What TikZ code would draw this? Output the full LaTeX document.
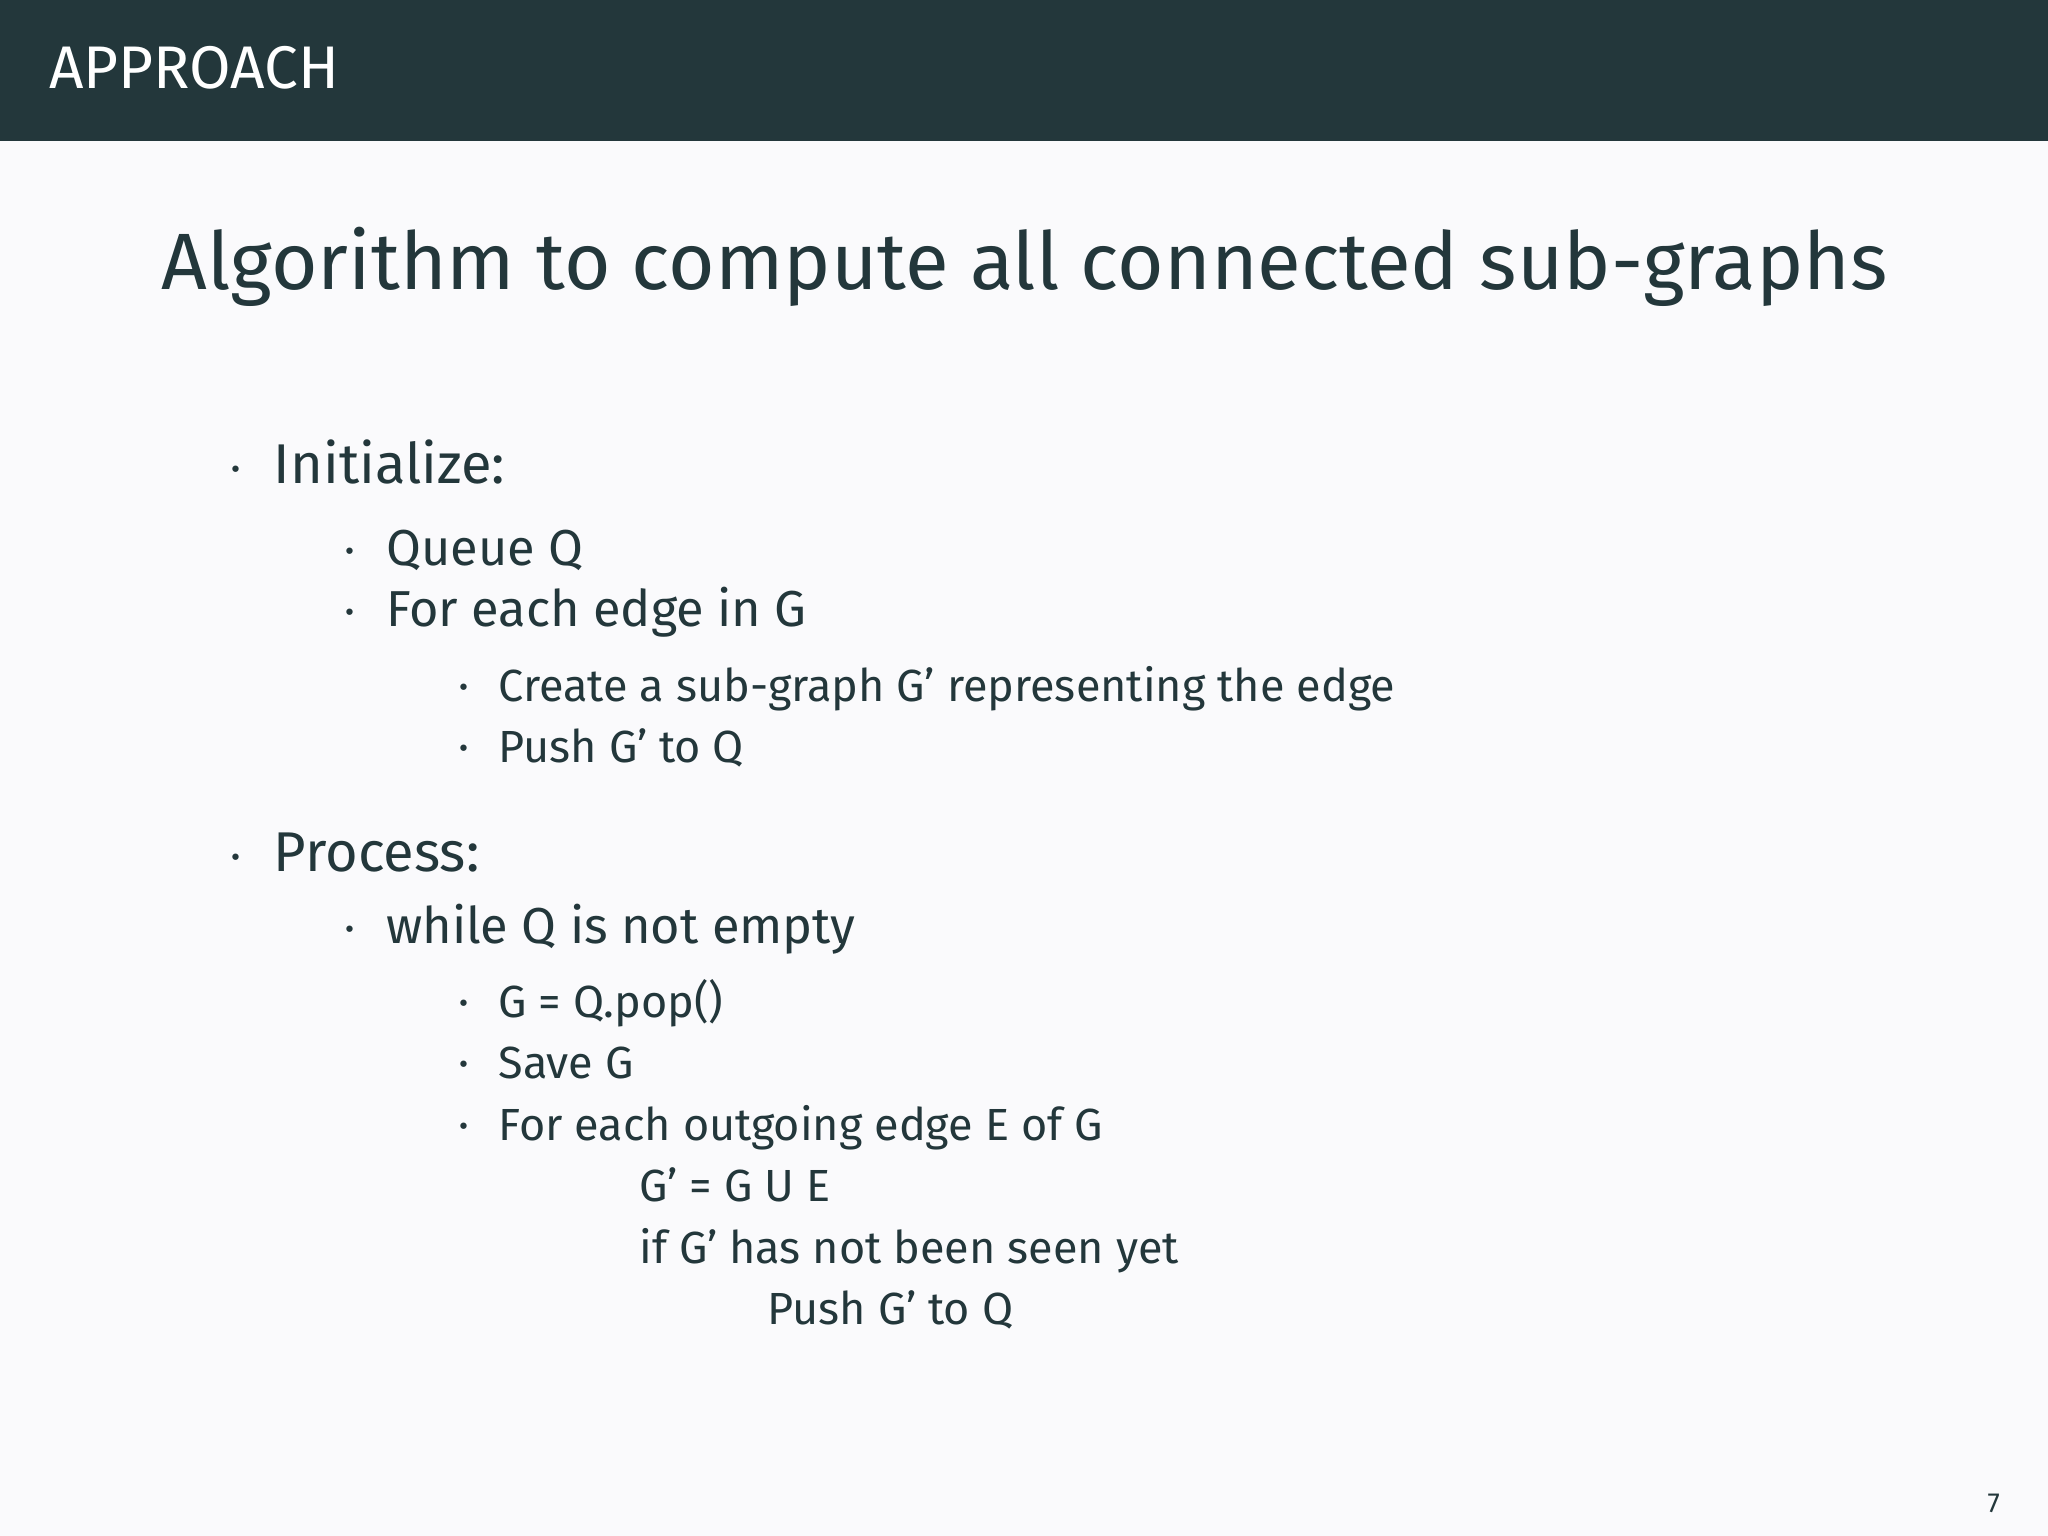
\documentclass[tikz,border=0pt]{standalone}
\usepackage{fontspec}
\setmainfont{Fira Sans}
\definecolor{dk}{HTML}{23373B}
\definecolor{bg}{HTML}{FAFAFC}
\begin{document}
\begin{tikzpicture}[x=0.01cm,y=-0.01cm,
  t/.style={anchor=base west,inner sep=0,text=dk},
  l1/.style={t,font=\fontsize{12.2}{15}\selectfont},
  l2/.style={t,font=\fontsize{11}{14}\selectfont},
  l3/.style={t,font=\fontsize{9.8}{13}\selectfont},
  bul/.style={t,font=\fontsize{10}{13}\selectfont}]
\useasboundingbox (0,0) rectangle (1568,1176);
\fill[bg] (0,0) rectangle (1568,1176);
\fill[dk] (0,0) rectangle (1568,108);
\node[t,text=white,font=\fontsize{13.1}{15}\selectfont] (hd) at (37,68) {APPROACH};
\node[t,font=\fontsize{17.4}{21}\selectfont] (title) at (123,222) {Algorithm to compute all connected sub-graphs};
\node[bul] (b1) at (176,370) {·};
\node[l1] (i1) at (209,370) {Initialize:};
\node[bul] (b2) at (263,433) {·};
\node[l2] (q) at (295,433) {Queue Q};
\node[bul] (b3) at (263,480) {·};
\node[l2] (fe) at (295,480) {For each edge in G};
\node[bul] (b4) at (350,537) {·};
\node[l3] (cr) at (381,537) {Create a sub-graph G’ representing the edge};
\node[bul] (b5) at (350,584) {·};
\node[l3] (pu) at (381,584) {Push G’ to Q};
\node[bul] (b6) at (176,667) {·};
\node[l1] (pr) at (209,667) {Process:};
\node[bul] (b7) at (263,722) {·};
\node[l2] (wh) at (295,722) {while Q is not empty};
\node[bul] (b8) at (350,779) {·};
\node[l3] (gp) at (381,779) {G = Q.pop()};
\node[bul] (b9) at (350,826) {·};
\node[l3] (sv) at (381,826) {Save G};
\node[bul] (b10) at (350,873) {·};
\node[l3] (fo) at (381,873) {For each outgoing edge E of G};
\node[l3] (gu) at (489,920) {G’ = G U E};
\node[l3] (if) at (489,967) {if G’ has not been seen yet};
\node[l3] (p2) at (587,1014) {Push G’ to Q};
\node[t,font=\fontsize{6}{7}\selectfont] (pg) at (1521,1158) {7};
\end{tikzpicture}
\end{document}
